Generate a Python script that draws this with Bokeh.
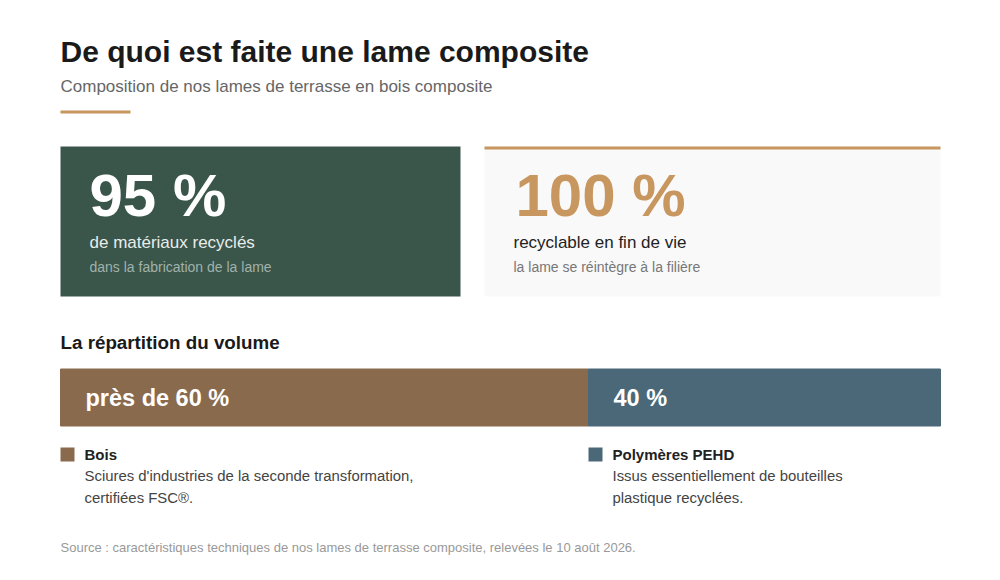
from bokeh.plotting import figure
from bokeh.models import Range1d, ColumnDataSource
from bokeh.core.properties import value
from bokeh.embed import file_html
from bokeh.resources import INLINE

# ---------------- data ----------------
title = "De quoi est faite une lame composite"
subtitle = "Composition de nos lames de terrasse en bois composite"

stat_values = ["95 %", "100 %"]
stat_labels = ["de matériaux recyclés", "recyclable en fin de vie"]
stat_notes = ["dans la fabrication de la lame", "la lame se réintègre à la filière"]

section_title = "La répartition du volume"
materials = ["Bois", "Polymères PEHD"]
shares = [60, 40]
share_labels = ["près de 60 %", "40 %"]
desc_line1 = ["Sciures d'industries de la seconde transformation,", "Issus essentiellement de bouteilles"]
desc_line2 = ["certifiées FSC®.", "plastique recyclées."]

source_note = "Source : caractéristiques techniques de nos lames de terrasse composite, relevées le 10 août 2026."

# ---------------- style ----------------
FONT = value("Liberation Sans")
GOLD = "#C8965F"
GREEN = "#3A554A"
BROWN = "#8A6A4D"
BLUE = "#4A6878"
mat_colors = [BROWN, BLUE]

W, H = 984, 564
p = figure(width=W, height=H, output_backend="svg", toolbar_location=None,
           x_range=Range1d(0, W), y_range=Range1d(H, 0),
           min_border=0)
p.axis.visible = False
p.grid.visible = False
p.outline_line_color = None
p.background_fill_color = "white"
p.border_fill_color = "white"

# percentage scale for the stacked bar: 0 -> x=60, 100 -> x=940
BAR_L, BAR_R = 60, 940
px_per = (BAR_R - BAR_L) / 100.0
p.extra_x_ranges = {"pct": Range1d((0 - BAR_L) / px_per, (W - BAR_L) / px_per)}


def txt(x, base, s, size, color, bold=False):
    # place text by its baseline (centre of caps ~0.35 em above baseline)
    p.text(x=[x], y=[base - 0.35 * size], text=[s], text_font=FONT,
           text_font_size=value(f"{size}px"), text_color=color,
           text_font_style="bold" if bold else "normal",
           text_baseline="middle", text_align="left")


# header
txt(60, 61, title, 30, "#1A1A1A", bold=True)
txt(60, 92, subtitle, 17, "#666666")
p.quad(left=[60], right=[130], top=[110], bottom=[113], fill_color=GOLD, line_color=None)

# cards
card_left = [60, 484]
card_right = [460, 940]
card_fill = [GREEN, "#F9F9F9"]
p.quad(left=card_left, right=card_right, top=[146, 146], bottom=[296, 296],
       fill_color=card_fill, line_color=None)
p.quad(left=[card_left[1]], right=[card_right[1]], top=[146], bottom=[149],
       fill_color=GOLD, line_color=None)

val_colors = ["#FFFFFF", GOLD]
lab_colors = ["#E8EDEA", "#222222"]
note_colors = ["#A0B2AA", "#777777"]
val_dx = [29, 31]
for i in range(2):
    x0 = card_left[i]
    txt(x0 + val_dx[i], 216, stat_values[i], 60, val_colors[i], bold=True)
    txt(x0 + 29, 248, stat_labels[i], 17, lab_colors[i])
    txt(x0 + 29, 271, stat_notes[i], 14, note_colors[i])

# section title
txt(60, 349, section_title, 18.8, "#1A1A1A", bold=True)

# stacked bar
lefts = [sum(shares[:i]) for i in range(len(shares))]
rights = [lefts[i] + shares[i] for i in range(len(shares))]
SQ = 14 / px_per  # legend square width expressed in percentage units
n = len(shares)
src = ColumnDataSource(dict(left=lefts, right=rights, y=[397] * n,
                            color=mat_colors, label=share_labels,
                            sq_r=[l + SQ for l in lefts],
                            sq_t=[447] * n, sq_b=[461] * n,
                            name=materials, d1=desc_line1, d2=desc_line2,
                            y1=[459 - 0.35 * 15] * n,
                            y2=[481 - 0.35 * 14.9] * n,
                            y3=[503 - 0.35 * 14.9] * n))
p.hbar(y="y", left="left", right="right", height=57, fill_color="color",
       line_color="color", line_width=1, source=src, x_range_name="pct")
p.text(x="left", y="y", text="label", source=src, x_range_name="pct",
       x_offset=25, text_font=FONT, text_font_size=value("23.5px"),
       text_font_style="bold", text_color="white", text_baseline="middle",
       text_align="left")

# legend / descriptions
p.quad(left="left", right="sq_r", top="sq_t", bottom="sq_b", fill_color="color",
       line_color=None, source=src, x_range_name="pct")
p.text(x="left", y="y1", text="name", source=src, x_range_name="pct", x_offset=24,
       text_font=FONT, text_font_size=value("15px"), text_font_style="bold",
       text_color="#222222", text_baseline="middle", text_align="left")
p.text(x="left", y="y2", text="d1", source=src, x_range_name="pct", x_offset=24,
       text_font=FONT, text_font_size=value("14.9px"),
       text_color="#444444", text_baseline="middle", text_align="left")
p.text(x="left", y="y3", text="d2", source=src, x_range_name="pct", x_offset=24,
       text_font=FONT, text_font_size=value("14.9px"),
       text_color="#444444", text_baseline="middle", text_align="left")

# footer
txt(60, 552, source_note, 13, "#999999")

open("out.html", "w").write(file_html(p, INLINE))
